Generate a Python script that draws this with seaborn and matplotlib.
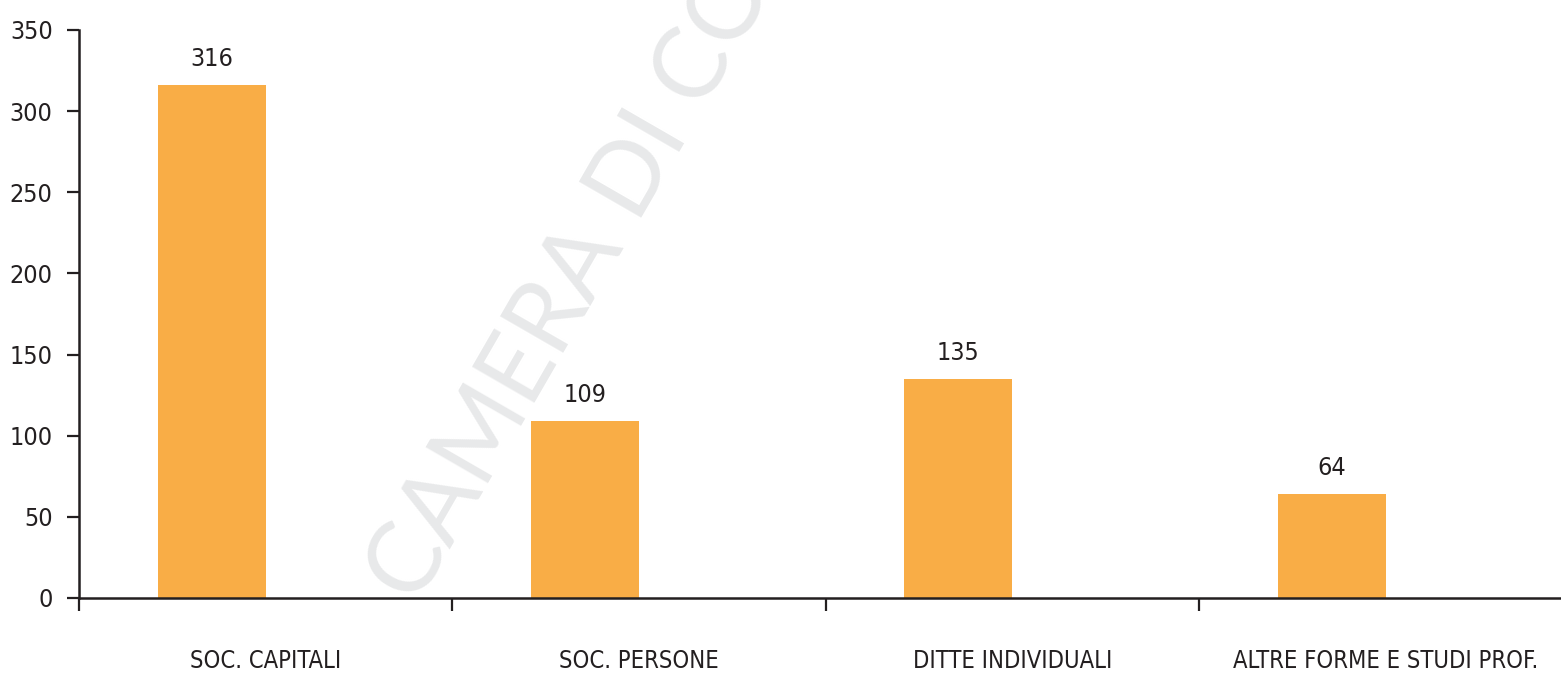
import matplotlib
matplotlib.use("Agg")
import matplotlib.pyplot as plt
from matplotlib.ticker import FixedLocator, NullFormatter
import seaborn as sns

# Imprese per forma giuridica
categories = ["SOC. CAPITALI", "SOC. PERSONE", "DITTE INDIVIDUALI", "ALTRE FORME E STUDI PROF."]
values = [316, 109, 135, 64]
y_ticks = [0, 50, 100, 150, 200, 250, 300, 350]
watermark = "CAMERA DI COMMERCIO"

BAR_COLOR = "#F9AD46"
INK = "#231F20"
MARK_GREY = "#E8E9EA"
FS_NUM = 18
FS_CAT = 17

sns.set_style("white")
plt.rcParams["font.family"] = ["DejaVu Sans"]
plt.rcParams["font.stretch"] = "condensed"

fig = plt.figure(figsize=(15.61, 6.75), dpi=100)
ax = fig.add_axes([0.0506, 0.1141, 0.9494, 0.8415])
ax.set_facecolor("none")

bar_w = 0.289
sns.barplot(x=categories, y=values, color=BAR_COLOR, width=bar_w,
            saturation=1, linewidth=0, ax=ax, zorder=2)

# bars sit on the left half of each category slot
for patch in ax.patches:
    patch.set_x(patch.get_x() - patch.get_width() / 2)

for patch, v in zip(ax.patches, values):
    cx = patch.get_x() + patch.get_width() / 2
    ax.annotate(f"{v}", xy=(cx, v), xytext=(0, 13.5), textcoords="offset points",
                ha="center", va="baseline", fontsize=FS_NUM, color=INK)

ax.set_ylim(0, 350)
ax.set_xlim(-0.5, 3.47)

ax.yaxis.set_major_locator(FixedLocator(y_ticks))
ax.set_yticklabels([str(t) for t in y_ticks])

n = len(categories)
ax.xaxis.set_major_locator(FixedLocator([i - 0.5 for i in range(n + 1)]))
ax.xaxis.set_major_formatter(NullFormatter())
ax.xaxis.set_minor_locator(FixedLocator(list(range(n))))
ax.set_xticklabels(categories, minor=True)

ax.tick_params(axis="x", which="major", direction="out", length=9, width=1.6,
               color=INK, bottom=True)
ax.tick_params(axis="x", which="minor", length=0, pad=37, labelsize=FS_CAT,
               labelcolor=INK, bottom=True)
ax.tick_params(axis="y", which="major", direction="out", length=9, width=1.6,
               color=INK, pad=10, labelsize=FS_NUM, labelcolor=INK, left=True)

for side in ("top", "right"):
    ax.spines[side].set_visible(False)
for side in ("left", "bottom"):
    ax.spines[side].set_color(INK)
    ax.spines[side].set_linewidth(1.8)
    ax.spines[side].set_zorder(3)

ax.set_xlabel("")
ax.set_ylabel("")
ax.grid(False)

ax.text(0.267, 0.101, watermark, transform=fig.transFigure, rotation=60,
        rotation_mode="anchor", ha="left", va="baseline", fontsize=72,
        family="Lato", weight="normal", stretch="normal", color=MARK_GREY,
        zorder=0.5, clip_on=False)

fig.savefig("out.png", dpi=100, facecolor="white")
